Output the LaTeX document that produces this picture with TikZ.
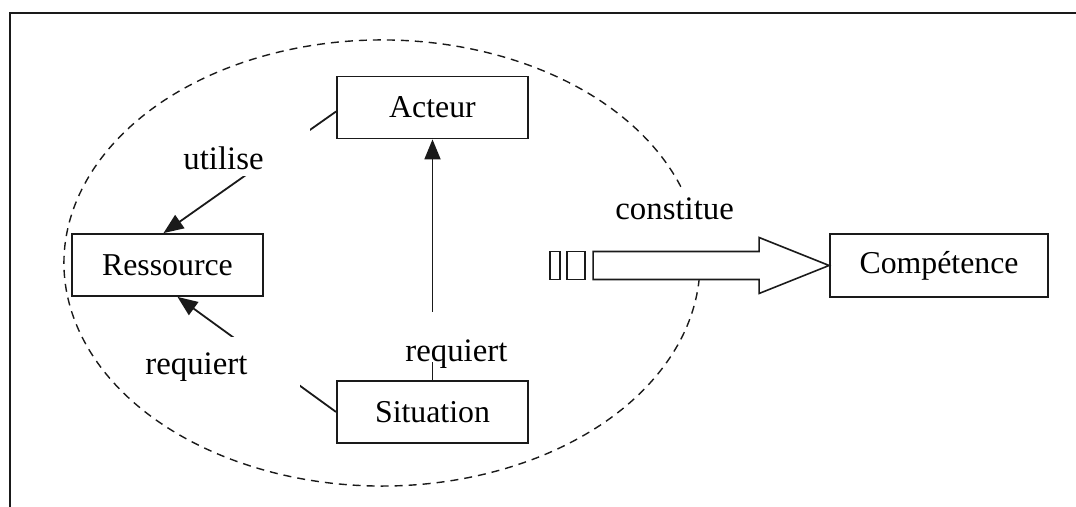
\documentclass[tikz,border=0pt]{standalone}
\usepackage{fontspec}
\setmainfont{Liberation Serif}
\usepackage{tikz}
\usetikzlibrary{arrows.meta,positioning}
\definecolor{lnblack}{HTML}{1A1A1A}
\tikzset{
  box/.style    = {rectangle, draw=lnblack, line width=0.9pt, fill=white,
                   minimum width=95.5pt, minimum height=31pt,
                   font=\fontsize{15.9}{19}\selectfont},
  ed/.style     = {-{Triangle[length=10pt,width=8pt]}, draw=lnblack, line width=0.9pt},
  lbl/.style    = {fill=white, inner ysep=0pt, align=left, anchor=base west,
                   font=\fontsize{16.4}{19}\selectfont},
  bigarr/.style = {draw=lnblack, line width=0.8pt, fill=white},
  zone/.style   = {draw=lnblack, line width=0.7pt, dash pattern=on 4pt off 3pt},
}

\begin{document}
\begin{tikzpicture}[x=0.5pt,y=0.5pt]
  \useasboundingbox (0,0) rectangle (1076,507);
  \draw[lnblack, line width=1pt] (10,0) -- (10,494) -- (1076,494);
  % dashed zone, open where the big arrow leaves it
  \draw[zone] (382,244) ++(20:318 and 223)
    arc[start angle=20, end angle=356, x radius=318, y radius=223];
  \node[box] (acteur) at (432.5,399.5) {Acteur};
  \node[box] (ress)   at (167.5,242)   {Ressource};
  \node[box] (sit)    at (432.5,95)    {Situation};
  \node[box, minimum width=109pt, minimum height=31.5pt] (comp) at (939,241.5) {Compétence};
  \draw[ed] ([yshift=-2pt]acteur.west) -- ([xshift=-2pt]ress.north);
  \draw[ed] (sit.west) -- ([xshift=5pt]ress.south);
  \draw[ed] (sit.north) -- (acteur.south);
  \node[lbl, inner xsep=1.5pt, text width=62pt, text height=21pt, text depth=3pt]
    (l1) at (180,337) {utilise};
  \node[lbl, inner xsep=2.5pt, text width=75pt, text height=19pt, text depth=7.5pt]
    (l2) at (140,132) {requiert};
  \node[lbl, inner xsep=1.5pt, text width=53.5pt, text height=25pt, text depth=0pt]
    (l3) at (402,145) {requiert};
  \node[lbl, inner xsep=1.5pt, text width=58pt, text height=16pt, text depth=13.5pt]
    (l4) at (612,287) {constitue};
  % striped block arrow into the competence box
  \draw[bigarr] (comp.west) -- ++(-70,28) -- ++(0,-14) -- ++(-166,0)
    -- ++(0,-28) -- ++(166,0) -- ++(0,-14) -- cycle;
  \draw[bigarr] (comp.west) ++(-262,-14) rectangle ++(18,28);
  \draw[bigarr] (comp.west) ++(-279,-14) rectangle ++(10,28);
\end{tikzpicture}
\end{document}
